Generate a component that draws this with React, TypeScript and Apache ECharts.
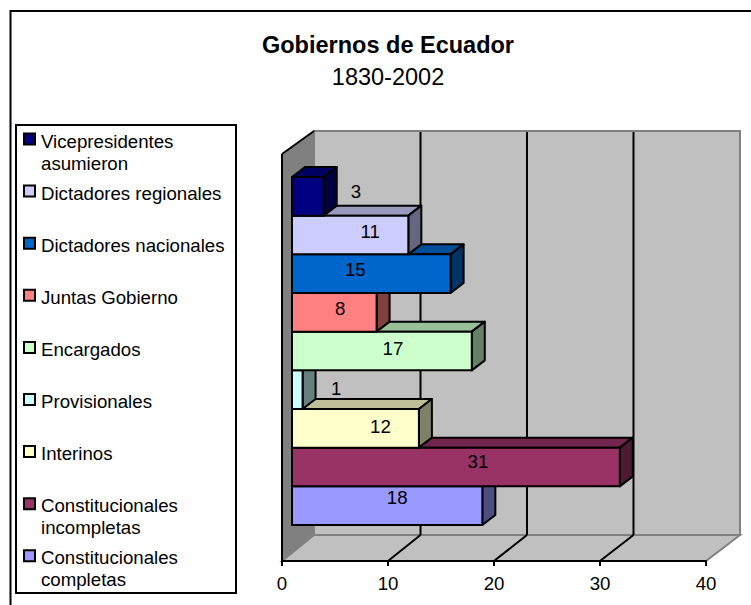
import React, { useEffect, useRef } from "react";
import * as echarts from "echarts";

// Bottom-to-top, as the bars stack on the chart.
const categories = [
  "Constitucionales\ncompletas",
  "Constitucionales\nincompletas",
  "Interinos",
  "Provisionales",
  "Encargados",
  "Juntas Gobierno",
  "Dictadores nacionales",
  "Dictadores regionales",
  "Vicepresidentes\nasumieron",
];
const values = [18, 31, 12, 1, 17, 8, 15, 11, 3];
const colors = ["#9999FF", "#993366", "#FFFFCC", "#CCFFFF", "#CCFFCC", "#FF8080", "#0066CC", "#CCCCFF", "#000080"];
const ticks = [0, 10, 20, 30, 40];
const titleText = "Gobiernos de Ecuador";
const subtitleText = "1830-2002";

// Hand-placed data label nudges (px from the bar's front-face centre), one per bar.
const labelNudgeX = [10, 22, 25, 39, 11, 6, -16, 20, 48];
const labelNudgeY = [-8, -6, -2, -1, -3, -4, -4, -4, -5];

const FONT = '"Liberation Sans", Arial, sans-serif';
const LABEL_SIZE = 18.67;
const LINE_W = 2;
const shade = (hex: string, k: number) => {
  const n = parseInt(hex.slice(1), 16);
  const c = [(n >> 16) & 255, (n >> 8) & 255, n & 255].map((x) => Math.round(x * k));
  return `rgb(${c.join(",")})`;
};

const wallRender = (_: any, api: any) => {
  const [lx, fy] = api.coord([0, 0]);
  const [rx, ty] = api.coord([40, 1]);
  const backBottom = fy - 26;
  const backTop = ty - 23;
  const wall = "#C0C0C0";
  const gray = "#808080";
  const poly = (points: number[][], fill: string, stroke?: string, w = 2) => ({
    type: "polygon",
    shape: { points },
    style: { fill, stroke: stroke || "none", lineWidth: w },
  });
  return {
    type: "group",
    children: [
      poly([[lx + 32, backTop], [rx + 34, backTop], [rx + 34, backBottom], [lx + 32, backBottom]], wall, gray, 2),
      poly([[lx, fy], [lx + 32, backBottom], [rx + 34, backBottom], [rx, fy]], wall, gray, 2),
      poly([[lx, ty], [lx + 32, backTop], [lx + 32, backBottom], [lx, fy]], gray),
      { type: "line", shape: { x1: lx, y1: ty, x2: lx + 32, y2: backTop }, style: { stroke: "#000", lineWidth: LINE_W } },
      { type: "line", shape: { x1: lx, y1: ty, x2: lx, y2: fy }, style: { stroke: "#000", lineWidth: LINE_W } },
    ],
  };
};

const gridLineRender = (_: any, api: any) => {
  const v = api.value(0);
  const [x, fy] = api.coord([v, 0]);
  const [, ty] = api.coord([v, 1]);
  const dx = 32 + (v / 40) * 2;
  const backBottom = fy - 26;
  const backTop = ty - 22;
  return {
    type: "group",
    children: [
      { type: "line", shape: { x1: x, y1: fy, x2: x + dx, y2: backBottom }, style: { stroke: "#000", lineWidth: LINE_W } },
      { type: "line", shape: { x1: x + dx, y1: backBottom, x2: x + dx, y2: backTop }, style: { stroke: "#000", lineWidth: LINE_W } },
    ],
  };
};

const barRender = (index: number) => (_: any, api: any) => {
  const v = api.value(0);
  const cat = api.value(1);
  const [x0, cy] = api.coord([0, cat]);
  const [x1] = api.coord([v, cat]);
  const h = api.size([0, 1])[1];
  const top = cy - h / 2;
  const bottom = cy + h / 2;
  const dx = 13;
  const dy = 10;
  const col = colors[index];
  const line = { stroke: "#000", lineWidth: LINE_W, lineJoin: "round" };
  return {
    type: "group",
    children: [
      { type: "polygon", shape: { points: [[x0, top], [x0 + dx, top - dy], [x1 + dx, top - dy], [x1, top]] }, style: { fill: shade(col, 0.75), ...line } },
      { type: "polygon", shape: { points: [[x1, top], [x1 + dx, top - dy], [x1 + dx, bottom - dy], [x1, bottom]] }, style: { fill: shade(col, 0.5), ...line } },
      { type: "rect", shape: { x: x0, y: top, width: x1 - x0, height: bottom - top }, style: { fill: col, ...line } },
      {
        type: "text",
        z2: 10,
        style: {
          text: String(v),
          x: (x0 + x1) / 2 + labelNudgeX[index],
          y: cy + labelNudgeY[index],
          align: "center",
          verticalAlign: "middle",
          font: `${LABEL_SIZE}px ${FONT}`,
          fill: "#000",
        },
      },
    ],
  };
};

const legendGraphics = () => {
  const firstY = 139;
  const step = 52.1;
  const out: any[] = [
    { type: "polyline", shape: { points: [[10.5, 605], [10.5, 11], [751, 11]] }, style: { stroke: "#000", lineWidth: 2, fill: "none" } },
    { type: "rect", shape: { x: 16, y: 125, width: 220, height: 468 }, style: { fill: "#fff", stroke: "#000", lineWidth: 2 } },
  ];
  categories.forEach((name, i) => {
    const y = firstY + (categories.length - 1 - i) * step;
    out.push({ type: "rect", shape: { x: 24, y: y - 5.5, width: 11, height: 11 }, style: { fill: colors[i], stroke: "#000", lineWidth: 2 } });
    out.push({
      type: "text",
      x: 41,
      y: y - 9,
      style: { text: name, font: `${LABEL_SIZE}px ${FONT}`, lineHeight: 22, fill: "#000", align: "left", verticalAlign: "top" },
    });
  });
  return out;
};

export default function App() {
  const ref = useRef<HTMLDivElement>(null);
  useEffect(() => {
    document.body.style.margin = "0";
    const chart = echarts.init(ref.current!, null, { renderer: "svg" });
    chart.setOption({
      animation: false,
      backgroundColor: "#fff",
      title: {
        text: titleText,
        subtext: subtitleText,
        left: 383,
        top: 28,
        textAlign: "center",
        itemGap: 8,
        textStyle: { fontFamily: FONT, fontWeight: "bold", fontSize: 23.5, color: "#000" },
        subtextStyle: { fontFamily: FONT, fontSize: 23.5, color: "#000" },
      },
      grid: [
        { left: 282, width: 424, top: 154, height: 407 },
        { left: 292, width: 423, top: 177, height: 348 },
      ],
      xAxis: [
        {
          gridIndex: 0,
          type: "value",
          min: 0,
          max: 40,
          interval: 10,
          splitLine: { show: false },
          axisLine: { show: true, lineStyle: { color: "#000", width: LINE_W } },
          axisTick: { show: true, length: 5, lineStyle: { color: "#000", width: LINE_W } },
          axisLabel: { fontFamily: FONT, fontSize: LABEL_SIZE, color: "#000", margin: 13 },
          z: 5,
        },
        { gridIndex: 1, type: "value", min: 0, max: 40, show: false },
      ],
      yAxis: [
        { gridIndex: 0, type: "value", min: 0, max: 1, show: false },
        { gridIndex: 1, type: "category", data: categories, show: false },
      ],
      series: [
        { type: "custom", name: "wall", xAxisIndex: 0, yAxisIndex: 0, coordinateSystem: "cartesian2d", data: [[0]], renderItem: wallRender, silent: true, clip: false, encode: { x: 0 } },
        { type: "custom", name: "grid", xAxisIndex: 0, yAxisIndex: 0, coordinateSystem: "cartesian2d", data: ticks.slice(1, 4).map((t) => [t]), renderItem: gridLineRender, silent: true, clip: false, encode: { x: 0 } },
        ...categories.map((name, i) => ({
          type: "custom",
          name,
          xAxisIndex: 1,
          yAxisIndex: 1,
          coordinateSystem: "cartesian2d",
          data: [[values[i], i]],
          encode: { x: 0, y: 1 },
          renderItem: barRender(i),
          clip: false,
          silent: true,
        })),
      ],
      graphic: legendGraphics(),
    });
    return () => chart.dispose();
  }, []);
  return <div ref={ref} style={{ width: 751, height: 605 }} />;
}
